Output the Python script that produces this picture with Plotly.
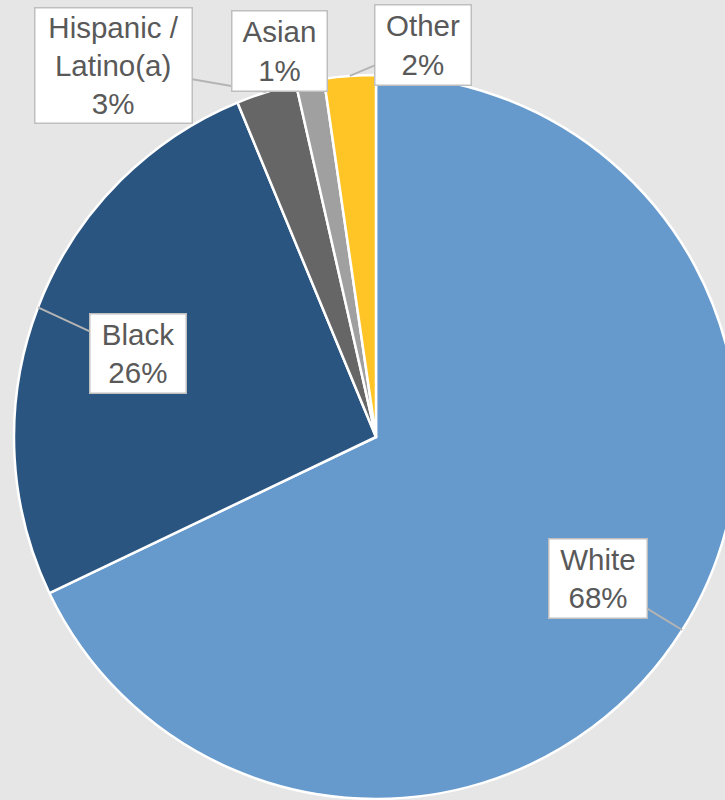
import math
import plotly.graph_objects as go

# ---- data ----
categories = ["White", "Black", "Hispanic /<br>Latino(a)", "Asian", "Other"]
shares = [67.9, 25.85, 2.7, 1.25, 2.3]
colors = ["#6699CC", "#2A5580", "#666666", "#A0A0A0", "#FFC425"]

# ---- layout geometry ----
W, H = 752, 800
dom_y = [1 / H, 725 / H]
cx = W / 2
r = min(W, H * (dom_y[1] - dom_y[0])) / 2
cy = H - (dom_y[0] * H + r)  # from top, in px

# label boxes: centre (px from top-left) and outer size
box_centre = [(598, 578.5), (138, 353.5), (113.5, 65.5), (279.5, 51), (423, 45)]
box_size = [(100, 81), (98, 81), (159, 117), (97, 82), (98, 82)]
show_leader = [True, True, True, False, True]

fig = go.Figure(go.Pie(
    labels=categories,
    values=shares,
    sort=False,
    direction="clockwise",
    rotation=0,
    marker=dict(colors=colors, line=dict(color="white", width=2.5)),
    textinfo="none",
    hoverinfo="label+percent",
    showlegend=False,
    domain=dict(x=[0, 1], y=dom_y),
))

total = sum(shares)
annotations = []
cum = 0.0
bw = 1.5
for name, v, (bx, by), (w, h), lead in zip(categories, shares, box_centre, box_size, show_leader):
    mid = (cum + v / 2) / total * 2 * math.pi
    cum += v
    tx = cx + r * math.sin(mid)
    ty = cy - r * math.cos(mid)
    text = f"{name}<br>{round(v / total * 100)}%"
    common = dict(
        text=text, xref="paper", yref="paper",
        font=dict(family="Liberation Sans, Arial, sans-serif", size=29.5, color="#595959"),
        bgcolor="white", bordercolor="#BFBFBF", borderwidth=bw, borderpad=0,
        width=w - 2 * bw, height=h - 2 * bw, align="center", valign="middle",
    )
    if lead:
        annotations.append(dict(
            x=tx / W, y=1 - ty / H,
            showarrow=True, arrowhead=0, arrowwidth=2, arrowcolor="#B4B4B4",
            axref="pixel", ayref="pixel", ax=bx - tx, ay=by - ty,
            standoff=0, startstandoff=0,
            **common,
        ))
    else:
        annotations.append(dict(
            x=bx / W, y=1 - by / H, xanchor="center", yanchor="middle",
            showarrow=False, **common,
        ))

fig.update_layout(
    width=W, height=H,
    margin=dict(l=0, r=0, t=0, b=0),
    paper_bgcolor="#E6E6E6",
    plot_bgcolor="#E6E6E6",
    annotations=annotations,
)

fig.write_html("out.html")
